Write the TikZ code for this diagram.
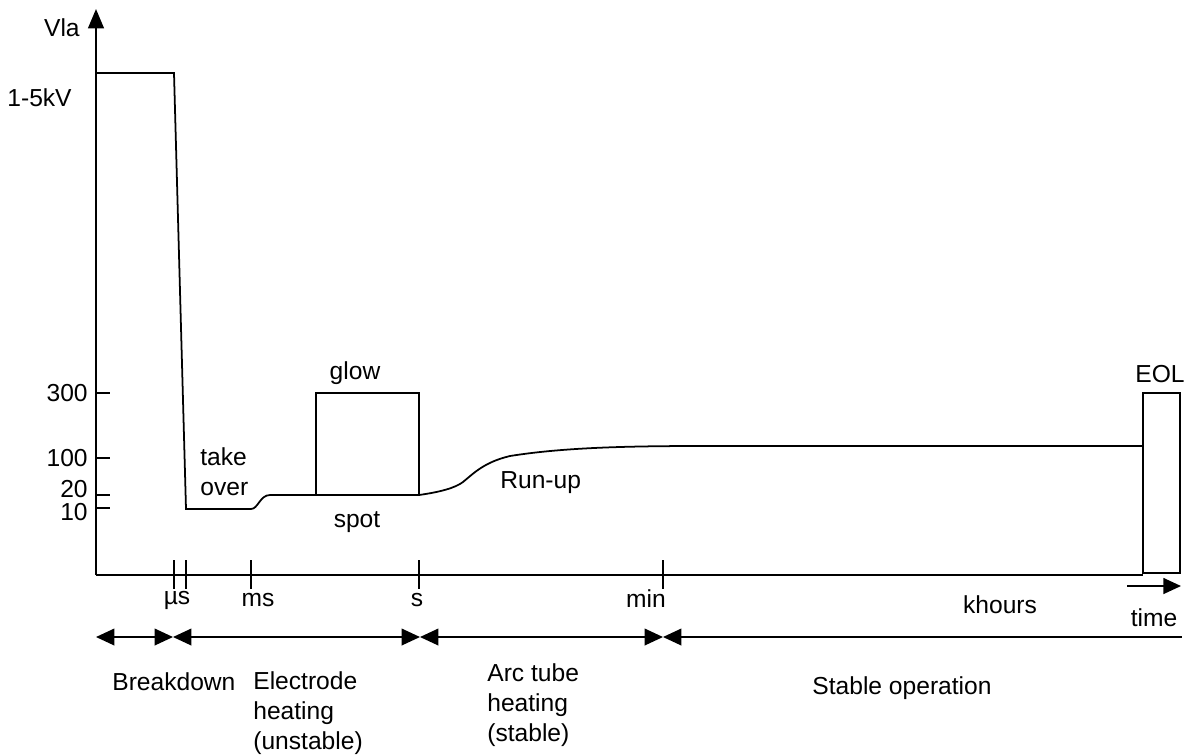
\documentclass[tikz,border=0pt]{standalone}
\usepackage{fontspec}
\setmainfont{Liberation Sans}
\usetikzlibrary{arrows.meta}

\begin{document}
\begin{tikzpicture}[x=0.02cm,y=-0.02cm,
  lbl/.style={font=\fontsize{14}{17}\selectfont,text=black,inner sep=0pt},
  curve/.style={black,line width=1pt},
  span/.style={black,line width=1pt,{Triangle[length=10.5pt,width=9.5pt]}-{Triangle[length=10.5pt,width=9.5pt]}}]
\useasboundingbox (0,0) rectangle (1186,755);

% axes
\draw[curve,-{Triangle[length=11pt,width=9pt]}] (96,575) -- (96,9);
\node[lbl,anchor=east] at (80,28) {Vla};
\draw[curve] (96,575) -- (1143,575);
\draw[curve,-{Triangle[length=10pt,width=9pt]}] (1127,586) -- (1181,586);
\node[lbl] at (1154,618) {time};

% y ticks
\draw[curve] (96,393) -- (110,393);
\node[lbl,anchor=east] at (88,393) {300};
\draw[curve] (96,458) -- (110,458);
\node[lbl,anchor=east] at (88,458) {100};
\draw[curve] (96,495) -- (110,495);
\node[lbl,anchor=east] at (88,489) {20};
\draw[curve] (96,508) -- (110,508);
\node[lbl,anchor=east] at (88,512) {10};
\node[lbl,anchor=east] at (72,98) {1-5kV};

% x ticks
\draw[curve] (174,560) -- (174,589);
\draw[curve] (186,560) -- (186,589);
\node[lbl] at (177,600) {µs};
\draw[curve] (251,560) -- (251,589);
\node[lbl] at (258,600) {ms};
\draw[curve] (419,560) -- (419,589);
\node[lbl] at (417,600) {s};
\draw[curve] (663,560) -- (663,589);
\node[lbl] at (646,599) {min};
\node[lbl] at (1000,605) {khours};

% lamp voltage
\draw[curve] (96,73) -- (174,73) -- (186,509) -- (251,509)
  .. controls (258,509) and (260,495) .. (270,495) -- (316,495);
\draw[curve] (316,495) rectangle (419,393);
\draw[curve] (419,495) .. controls (440,492) and (455,488) .. (463,482)
  .. controls (475,472) and (485,462) .. (510,456)
  .. controls (560,448) and (620,446) .. (700,446) -- (1143,446);
\draw[curve] (1143,393) rectangle (1180,573);

\node[lbl] at (355,373) {glow};
\node[lbl] at (357,522) {spot};
\node[lbl,anchor=west,align=left] at (200,472) {take\\over};
\node[lbl,anchor=west] at (500,483) {Run-up};
\node[lbl] at (1160,374) {EOL};

% phases
\coordinate (P0) at (96,637);
\coordinate (P1) at (173,637);
\coordinate (P2) at (420,637);
\coordinate (P3) at (663,637);
\coordinate (P4) at (1182,637);
\draw[span] (P0) -- (P1);
\draw[span] (P1) -- (P2);
\draw[span] (P2) -- (P3);
\draw[curve,{Triangle[length=10.5pt,width=9.5pt]}-] (P3) -- (P4);

\node[lbl,anchor=west] at (112,682) {Breakdown};
\node[lbl,anchor=west,align=left] at (253,713) {Electrode\\heating\\(unstable)};
\node[lbl,anchor=west,align=left] at (487,705) {Arc tube\\heating\\(stable)};
\node[lbl] at (902,688) {Stable operation};

\end{tikzpicture}
\end{document}
